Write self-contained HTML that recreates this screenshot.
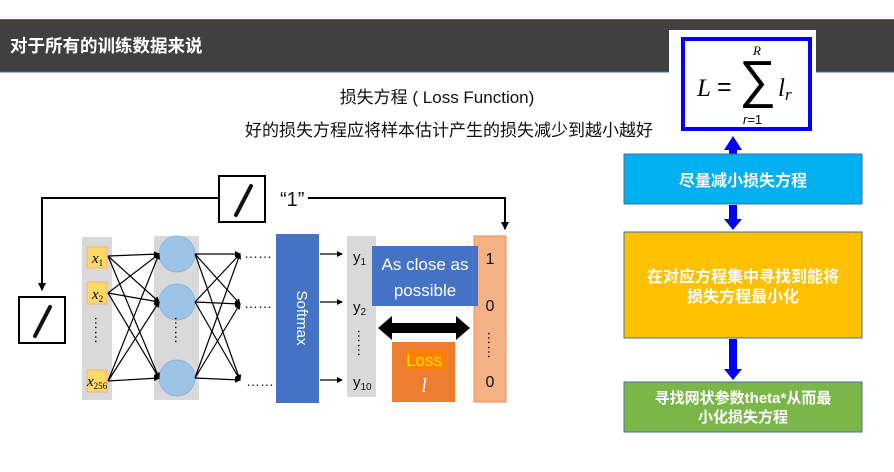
<!DOCTYPE html>
<html><head><meta charset="utf-8"><style>
html,body{margin:0;padding:0;background:#fff}
svg{display:block}
text{font-family:"Liberation Sans","Noto Sans CJK SC",sans-serif}
.s{font-family:"Liberation Serif",serif;font-style:italic}
</style></head><body>
<svg width="894" height="472" viewBox="0 0 894 472" xmlns="http://www.w3.org/2000/svg">
<defs>
<marker id="a" markerWidth="8" markerHeight="8" refX="7" refY="4" orient="auto" markerUnits="userSpaceOnUse"><path d="M0,0 L8,4 L0,8 z" fill="#000"/></marker>
<marker id="b" markerWidth="6" markerHeight="6" refX="5" refY="3" orient="auto" markerUnits="userSpaceOnUse"><path d="M0,0 L6,3 L0,6 z" fill="#000"/></marker>
</defs>
<rect x="0" y="19" width="894" height="53" fill="#404040"/>
<line x1="0" y1="19.5" x2="894" y2="19.5" stroke="#3d6ea8" stroke-width="1"/>
<line x1="0" y1="72" x2="894" y2="72" stroke="#3d6ea8" stroke-width="1"/>
<text x="10" y="52" font-size="17.5" font-weight="bold" fill="#fff">对于所有的训练数据来说</text>
<text x="437" y="103" font-size="17" text-anchor="middle" fill="#111">损失方程 ( Loss Function)</text>
<text x="449" y="136" font-size="17" text-anchor="middle" fill="#111">好的损失方程应将样本估计产生的损失减少到越小越好</text>

<!-- formula -->
<rect x="669" y="30" width="147" height="104" fill="#fff"/>
<rect x="683" y="39" width="127" height="90" fill="#fff" stroke="#0000ff" stroke-width="4"/>
<text x="697" y="96" class="s" font-size="25">L</text>
<text x="717" y="95" font-family="Liberation Serif" font-size="25">=</text>
<text x="739" y="97" font-family="Liberation Serif" font-size="52">∑</text>
<text x="753" y="55" class="s" font-size="13">R</text>
<text x="743" y="124" font-family="Liberation Serif" font-size="13"><tspan font-style="italic">r</tspan>=1</text>
<text x="778" y="96" class="s" font-size="25">l<tspan font-size="17" dy="4">r</tspan></text>

<!-- right flow -->
<rect x="729" y="149" width="8" height="8" fill="#0000ff"/><path d="M724,150 L733,136 L742,150z" fill="#0000ff"/>
<rect x="624" y="154" width="238" height="50" fill="#00b0f0" stroke="#41719c"/>
<text x="743" y="186" font-size="16" font-weight="bold" text-anchor="middle" fill="#fff">尽量减小损失方程</text>
<rect x="729" y="205" width="8" height="16" fill="#0000ff"/><path d="M724,219 L733,230 L742,219z" fill="#0000ff"/>
<rect x="624" y="232" width="238" height="106" fill="#ffc000" stroke="#41719c"/>
<text x="743" y="282" font-size="16" font-weight="bold" text-anchor="middle" fill="#fff">在对应方程集中寻找到能将</text>
<text x="743" y="302" font-size="16" font-weight="bold" text-anchor="middle" fill="#fff">损失方程最小化</text>
<rect x="729" y="339" width="8" height="32" fill="#0000ff"/><path d="M724,369 L733,380 L742,369z" fill="#0000ff"/>
<rect x="624" y="382" width="238" height="50" fill="#7ab648" stroke="#41719c"/>
<text x="743" y="403" font-size="15" font-weight="bold" text-anchor="middle" fill="#fff">寻找网状参数theta*从而最</text>
<text x="743" y="422" font-size="15" font-weight="bold" text-anchor="middle" fill="#fff">小化损失方程</text>

<!-- top connector -->
<polyline points="218,198 42,198 42,290" fill="none" stroke="#000" stroke-width="2" marker-end="url(#a)"/>
<polyline points="308,198 505,198 505,229" fill="none" stroke="#000" stroke-width="2" marker-end="url(#a)"/>
<rect x="219" y="176" width="46" height="46" fill="#fff" stroke="#000" stroke-width="2"/>
<path d="M251,186 L236,215" stroke="#111" stroke-width="4" stroke-linecap="round"/>
<text x="280" y="206" font-size="20" fill="#111">“1”</text>
<rect x="19" y="297" width="46" height="46" fill="#fff" stroke="#000" stroke-width="2"/>
<path d="M50,307 L35,336" stroke="#111" stroke-width="4" stroke-linecap="round"/>

<!-- columns -->
<rect x="82" y="237" width="30" height="163" fill="#d9d9d9"/>
<rect x="154" y="236" width="45" height="164" fill="#d9d9d9"/>
<g fill="#ffd966" stroke="#f4b183"><rect x="87" y="247" width="20" height="21"/><rect x="87" y="282" width="20" height="22"/><rect x="87" y="370" width="20" height="22"/></g>
<text x="92" y="263" class="s" font-size="15">x<tspan font-size="9" font-style="normal" dy="3">1</tspan></text>
<text x="92" y="299" class="s" font-size="15">x<tspan font-size="9" font-style="normal" dy="3">2</tspan></text>
<text x="87" y="386" class="s" font-size="15">x<tspan font-size="9" font-style="normal" dy="3">256</tspan></text>
<text x="97" y="332" font-size="14" text-anchor="middle" transform="rotate(90 97 330)">……</text>
<g fill="#9dc3e6" stroke="#8fb4dd"><circle cx="177" cy="254" r="18"/><circle cx="177" cy="302" r="18"/><circle cx="177" cy="378" r="18"/></g>
<text x="177" y="332" font-size="14" text-anchor="middle" transform="rotate(90 177 330)">……</text>
<g stroke="#000" stroke-width="1.2" marker-end="url(#b)">
<line x1="108" y1="256" x2="159" y2="254"/><line x1="108" y1="256" x2="159" y2="302"/><line x1="108" y1="256" x2="159" y2="378"/>
<line x1="108" y1="293" x2="159" y2="254"/><line x1="108" y1="293" x2="159" y2="302"/><line x1="108" y1="293" x2="159" y2="378"/>
<line x1="108" y1="381" x2="159" y2="254"/><line x1="108" y1="381" x2="159" y2="302"/><line x1="108" y1="381" x2="159" y2="378"/>
<line x1="195" y1="254" x2="240" y2="254"/><line x1="195" y1="254" x2="240" y2="304"/><line x1="195" y1="254" x2="240" y2="380"/>
<line x1="195" y1="302" x2="240" y2="254"/><line x1="195" y1="302" x2="240" y2="304"/><line x1="195" y1="302" x2="240" y2="380"/>
<line x1="195" y1="378" x2="240" y2="254"/><line x1="195" y1="378" x2="240" y2="304"/><line x1="195" y1="378" x2="240" y2="380"/>
</g>
<g font-size="14" fill="#111"><text x="244" y="258">……</text><text x="244" y="308">……</text><text x="246" y="386">……</text></g>
<rect x="276" y="234" width="43" height="169" fill="#4472c4"/>
<text x="297" y="318" font-size="15" fill="#fff" text-anchor="middle" transform="rotate(90 297 318)">Softmax</text>
<g stroke="#000" stroke-width="1.2" marker-end="url(#b)"><line x1="320" y1="254" x2="342" y2="254"/><line x1="320" y1="302" x2="342" y2="302"/><line x1="320" y1="380" x2="342" y2="380"/></g>
<rect x="347" y="236" width="29" height="161" fill="#d9d9d9"/>
<g font-size="15" fill="#111"><text x="353" y="262">y<tspan font-size="10" dy="3">1</tspan></text><text x="353" y="312">y<tspan font-size="10" dy="3">2</tspan></text><text x="353" y="387">y<tspan font-size="10" dy="3">10</tspan></text></g>
<text x="360" y="345" font-size="14" text-anchor="middle" transform="rotate(90 360 343)">……</text>
<rect x="474" y="236" width="32" height="166" fill="#f4b183" stroke="#f08c5a"/>
<g font-size="16" fill="#111" text-anchor="middle"><text x="490" y="264">1</text><text x="490" y="311">0</text><text x="490" y="387">0</text></g>
<text x="490" y="347" font-size="14" text-anchor="middle" transform="rotate(90 490 345)">……</text>
<rect x="372" y="246" width="106" height="60" fill="#4472c4"/>
<text x="425" y="270" font-size="17" fill="#fff" text-anchor="middle">As close as</text>
<text x="425" y="296" font-size="17" fill="#fff" text-anchor="middle">possible</text>
<path d="M378,328 L392,316 L392,323 L456,323 L456,316 L470,328 L456,340 L456,333 L392,333 L392,340z" fill="#000"/>
<rect x="392" y="342" width="63" height="60" fill="#ed7d31"/>
<rect x="405" y="350" width="40" height="20" fill="#ff7f00"/>
<text x="424" y="366" font-size="17" fill="#ffe600" text-anchor="middle">Loss</text>
<text x="424" y="392" class="s" font-size="20" fill="#fff" text-anchor="middle">l</text>
</svg>
</body></html>
